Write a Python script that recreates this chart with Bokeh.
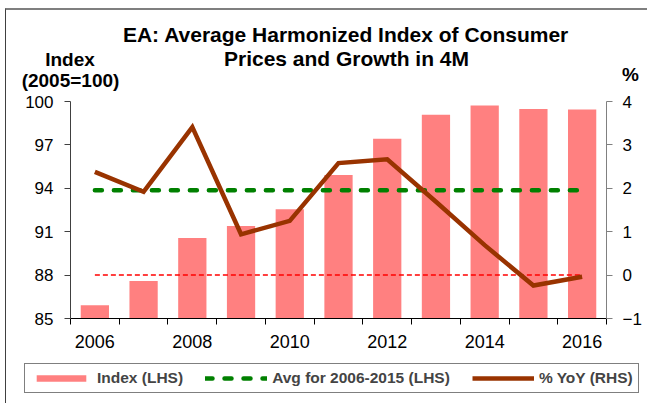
import numpy as np
from bokeh.plotting import figure
from bokeh.layouts import column
from bokeh.models import (Range1d, LinearAxis, FixedTicker, Label, Legend, LegendItem)
from bokeh.embed import file_html
from bokeh.resources import INLINE

# ---- data ----
years = ["2006", "2007", "2008", "2009", "2010", "2011", "2012", "2013", "2014", "2015", "2016"]
index_vals = [85.92, 87.60, 90.57, 91.40, 92.55, 94.92, 97.42, 99.08, 99.73, 99.49, 99.45]
yoy_vals = [2.38, 1.92, 3.41, 0.94, 1.25, 2.58, 2.67, 1.69, 0.69, -0.24, -0.04]
left_ticks = [85, 88, 91, 94, 97, 100]
right_ticks = [-1, 0, 1, 2, 3, 4]
labelled_years = ["2006", "2008", "2010", "2012", "2014", "2016"]
avg_years = years[:10]

FONT = "Liberation Sans"
W = 641
H_HEAD, H_MAIN, H_FOOT = 82, 263, 48

BAR_COLOR = "#FF8080"
AVG_COLOR = "#008000"
YOY_COLOR = "#993300"

xs = [i + 0.5 for i in range(len(years))]
boundaries = list(range(len(years) + 1))
avg_val = float(np.mean([v for y, v in zip(years, index_vals) if y in avg_years]))


def blank_fig(h, y_start, y_end):
    f = figure(width=W, height=h, output_backend="svg", toolbar_location=None,
               x_range=Range1d(0, W), y_range=Range1d(y_start, y_end),
               x_axis_type=None, y_axis_type=None, frame_align=False,
               min_border_left=0, min_border_right=0, min_border_top=0, min_border_bottom=0)
    f.outline_line_color = None
    f.background_fill_color = "white"
    f.border_fill_color = "white"
    return f


# ---------------- header (titles) ----------------
head = blank_fig(H_HEAD, H_HEAD, 0)


def add_text(fig, txt, x, y, size):
    fig.add_layout(Label(x=x, y=y, text=txt, text_font=FONT, text_font_size=size,
                         text_font_style="bold", text_align="center",
                         text_baseline="alphabetic", text_color="#000000"))


add_text(head, "EA: Average Harmonized Index of Consumer", 339.5, 24, "21px")
add_text(head, "Prices and Growth in 4M", 340, 48, "21px")
add_text(head, "Index", 63.5, 49, "19px")
add_text(head, "(2005=100)", 64, 70, "19px")
add_text(head, "%", 624, 64, "19px")

# ---------------- main chart ----------------
p = figure(width=W, height=H_MAIN, output_backend="svg", toolbar_location=None,
           x_range=Range1d(0, len(years)), y_range=Range1d(left_ticks[0], left_ticks[-1]),
           frame_align=False,
           min_border_left=64, min_border_right=41, min_border_top=9, min_border_bottom=37)
p.outline_line_color = None
p.xgrid.visible = False
p.ygrid.visible = False
p.background_fill_color = "white"
p.border_fill_color = "white"
p.extra_y_ranges = {"pct": Range1d(right_ticks[0], right_ticks[-1])}

bars = p.vbar(x=xs, top=index_vals, bottom=left_ticks[0], width=0.58,
              fill_color=BAR_COLOR, line_color=None)
p.line(x=[xs[0], xs[-1]], y=[0, 0], y_range_name="pct",
       line_color="#FF0000", line_width=1.5, line_dash="5 3")
p.line(x=[xs[0], xs[-1]], y=[avg_val, avg_val], line_color=AVG_COLOR,
       line_width=4.5, line_dash="7 12", line_cap="round")
p.line(x=xs, y=yoy_vals, y_range_name="pct", line_color=YOY_COLOR,
       line_width=4.5, line_join="miter")

xa = p.xaxis[0]
label_pos = [xs[years.index(y)] for y in labelled_years]
xa.ticker = FixedTicker(ticks=label_pos, minor_ticks=boundaries)
xa.major_label_overrides = {pos: y for pos, y in zip(label_pos, labelled_years)}
xa.major_tick_line_color = None
xa.major_tick_out = 6
xa.major_tick_in = 0
xa.minor_tick_in = 0
xa.minor_tick_out = 6
xa.minor_tick_line_color = "#000000"
xa.axis_line_color = "#000000"
xa.major_label_standoff = 10
xa.major_label_text_font = FONT
xa.major_label_text_font_size = "18px"
xa.major_label_text_color = "#000000"

ya = p.yaxis[0]
ya.ticker = FixedTicker(ticks=left_ticks)
ya.minor_tick_line_color = None
ya.major_tick_in = 0
ya.major_tick_out = 6
ya.major_tick_line_color = "#404040"
ya.axis_line_color = "#404040"
ya.major_label_standoff = 11
ya.major_label_text_font = FONT
ya.major_label_text_font_size = "17px"
ya.major_label_text_color = "#000000"

ra = LinearAxis(y_range_name="pct", ticker=FixedTicker(ticks=right_ticks))
ra.minor_tick_line_color = None
ra.major_tick_in = 0
ra.major_tick_out = 6
ra.major_tick_line_color = "#808080"
ra.axis_line_color = "#808080"
ra.major_label_standoff = 10
ra.major_label_text_font = FONT
ra.major_label_text_font_size = "17px"
ra.major_label_text_color = "#000000"
p.add_layout(ra, "right")

# ---------------- footer (legend) ----------------
foot = blank_fig(H_FOOT, 0, H_FOOT)
nan = [float("nan")]
lg_bar = foot.vbar(x=nan, top=nan, width=1, fill_color=BAR_COLOR, line_color=None)
lg_avg = foot.line(x=nan, y=nan, line_color=AVG_COLOR, line_width=4.5,
                   line_dash="7 12", line_cap="round")
lg_yoy = foot.line(x=nan, y=nan, line_color=YOY_COLOR, line_width=4.5)

legend = Legend(items=[LegendItem(label="Index (LHS)", renderers=[lg_bar]),
                       LegendItem(label="Avg for 2006-2015 (LHS)", renderers=[lg_avg]),
                       LegendItem(label="% YoY (RHS)", renderers=[lg_yoy])],
                orientation="horizontal", location=(18, 10),
                glyph_width=62, glyph_height=8, label_standoff=5, spacing=22, padding=5,
                label_text_font=FONT, label_text_font_size="15.5px", label_text_font_style="bold",
                border_line_color="#000000", border_line_width=1, background_fill_alpha=1.0)
foot.add_layout(legend)

layout = column(head, p, foot, spacing=0)
layout.styles = {"margin-left": "5px", "margin-top": "8px",
                 "border-left": "1px solid #404040", "border-top": "2px solid #7F7F7F"}
open("out.html", "w").write(file_html(layout, INLINE))
